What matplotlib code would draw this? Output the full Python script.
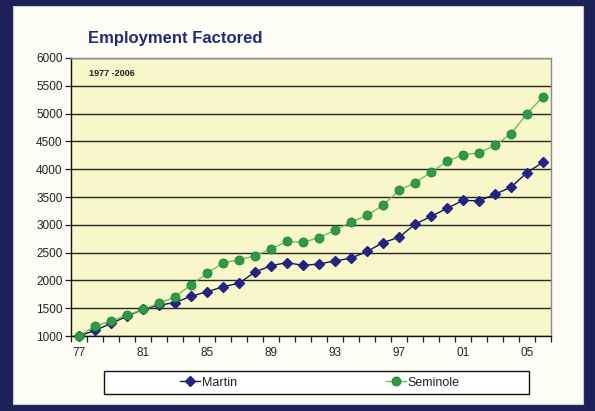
import matplotlib
matplotlib.use('Agg')
import matplotlib.pyplot as plt
from matplotlib.patches import Rectangle
from matplotlib.lines import Line2D

# ── Data ─────────────────────────────────────────────────────
years = [1977, 1978, 1979, 1980, 1981, 1982, 1983, 1984, 1985, 1986,
         1987, 1988, 1989, 1990, 1991, 1992, 1993, 1994, 1995, 1996,
         1997, 1998, 1999, 2000, 2001, 2002, 2003, 2004, 2005, 2006]
martin = [1000, 1100, 1225, 1355, 1480, 1555, 1600, 1715, 1795, 1885,
          1950, 2150, 2265, 2320, 2270, 2295, 2350, 2400, 2520, 2680,
          2775, 3010, 3150, 3295, 3440, 3430, 3550, 3675, 3940, 4125]
seminole = [1000, 1175, 1270, 1375, 1480, 1585, 1705, 1920, 2125, 2315,
            2370, 2440, 2565, 2700, 2685, 2770, 2900, 3050, 3170, 3350,
            3620, 3755, 3945, 4140, 4260, 4290, 4430, 4635, 5000, 5305]
label_years = [1977, 1981, 1985, 1989, 1993, 1997, 2001, 2005]
label_text = ['77', '81', '85', '89', '93', '97', '01', '05']
y_ticks = [1000, 1500, 2000, 2500, 3000, 3500, 4000, 4500, 5000, 5500, 6000]

# ── Colours ──────────────────────────────────────────────────
FRAME = '#1b2058'
PANEL = '#fdfdf6'
PLOT_BG = '#f8f6cb'
NAVY = '#222480'
GREEN = '#2f9a45'
GREEN_LINE = '#6cc25a'
TITLE = '#232b74'

plt.rcParams['font.family'] = ['Liberation Sans', 'DejaVu Sans']

W, H = 595, 411
fig = plt.figure(figsize=(W / 100, H / 100), dpi=100)
fig.patch.set_facecolor(FRAME)

# light panel inside the dark frame
fig.patches.append(Rectangle((13 / W, 1 - 404 / H), (583 - 13) / W, (404 - 6) / H,
                             transform=fig.transFigure, facecolor=PANEL,
                             edgecolor='#c8c8d8', linewidth=0.8, zorder=-5))

ax = fig.add_axes([71 / W, 1 - 336 / H, (551 - 71) / W, (336 - 58) / H])
ax.set_zorder(2)
ax.set_facecolor(PLOT_BG)

ax.plot(years, martin, color='#1a1a55', linewidth=1.0, marker='D',
        markersize=5, markerfacecolor=NAVY, markeredgecolor=NAVY, zorder=3,
        clip_on=False)
ax.plot(years, seminole, color=GREEN_LINE, linewidth=1.0, marker='o',
        markersize=6.5, markerfacecolor=GREEN, markeredgecolor='#26803a',
        markeredgewidth=0.6, zorder=4, clip_on=False)

ax.set_ylim(1000, 6000)
ax.set_xlim(1976.5, 2006.5)
ax.set_yticks(y_ticks)
ax.set_yticklabels([str(v) for v in y_ticks])
ax.grid(axis='y', color='#262626', linewidth=1.0)
ax.set_axisbelow(True)

# category ticks sit between the years, labels every fourth year
ax.set_xticks([y - 0.5 for y in years] + [years[-1] + 0.5])
ax.set_xticklabels([])
ax.set_xticks(label_years, minor=True)
ax.set_xticklabels(label_text, minor=True)
ax.tick_params(axis='x', which='major', direction='out', length=4,
               width=0.9, color='#222222')
ax.tick_params(axis='x', which='minor', length=0, labelsize=8.5, pad=8,
               labelcolor='#222222')
ax.tick_params(axis='y', direction='out', length=4, width=0.9,
               labelsize=8.5, pad=2, labelcolor='#222222', color='#222222')

for side in ('left', 'bottom'):
    ax.spines[side].set_color('#111111')
    ax.spines[side].set_linewidth(1.0)
for side in ('top', 'right'):
    ax.spines[side].set_color('#8a8a8a')
    ax.spines[side].set_linewidth(1.0)

ax.text(0.038, 0.96, '1977 -2006', transform=ax.transAxes, fontsize=6.5,
        color='#222222', ha='left', va='top', fontweight='bold')

fig.text(88 / W, 1 - 38 / H, 'Employment Factored', fontsize=12,
         fontweight='bold', color=TITLE, ha='left', va='center')

# ── Legend ───────────────────────────────────────────────────
fig.patches.append(Rectangle((104 / W, 1 - 394 / H), (529 - 104) / W, (394 - 371) / H,
                             transform=fig.transFigure, facecolor='white',
                             edgecolor='#111111', linewidth=1.0, zorder=1))
handles = [
    Line2D([0], [0], color='#1a1a55', linewidth=1.0, marker='D', markersize=5,
           markerfacecolor=NAVY, markeredgecolor=NAVY),
    Line2D([0], [0], color=GREEN_LINE, linewidth=1.0, marker='o', markersize=6.5,
           markerfacecolor=GREEN, markeredgecolor='#26803a', markeredgewidth=0.6),
]
leg = fig.legend(handles, ['Martin', 'Seminole'], loc='center',
                 bbox_to_anchor=(320 / W, 1 - 382.5 / H), ncol=2, frameon=False,
                 fontsize=9, handlelength=1.6, handletextpad=0.15,
                 columnspacing=11.9)
leg.set_zorder(3)
for t in leg.get_texts():
    t.set_color('#222222')

fig.savefig('out.png', dpi=100, facecolor=FRAME)
